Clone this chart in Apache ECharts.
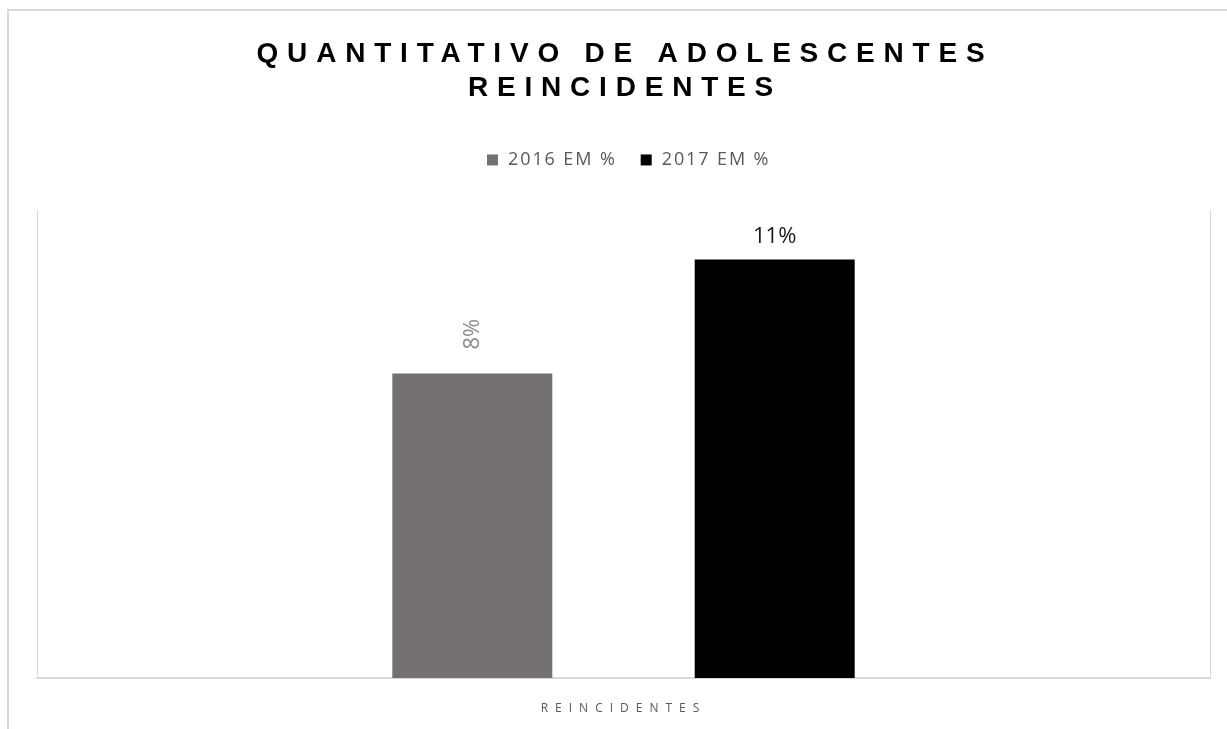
<!DOCTYPE html>
<html>
<head>
<meta charset="utf-8">
<title>Quantitativo de adolescentes reincidentes</title>
<script src="https://cdn.jsdelivr.net/npm/echarts@6/dist/echarts.min.js"></script>
<style>
  html, body { margin: 0; padding: 0; background: #ffffff; overflow: hidden; }
  #frame {
    position: absolute; left: 7px; top: 9px; width: 1300px; height: 800px;
    border-top: 2px solid #d9d9d9; border-left: 2px solid #d9d9d9;
  }
  #chart { position: absolute; left: 0; top: 0; width: 1227px; height: 729px; }
</style>
</head>
<body>
<div id="frame"></div>
<div id="chart"></div>
<script>
// Chart content
const titleText = 'QUANTITATIVO DE ADOLESCENTES\nREINCIDENTES';
const categories = ['REINCIDENTES'];
const seriesNames = ['2016 EM %', '2017 EM %'];
const values2016 = [8];
const values2017 = [11];

// ECharts has no letter-spacing option for canvas text, so tracking is
// applied through the 2D context whenever a matching font is set.
function trackingFor(font) {
  if (/\b28px/.test(font)) return '8.8px';   // title
  if (/\b18px/.test(font)) return '1.9px';   // legend
  if (/\b12px/.test(font)) return '7px';     // category label
  return '0px';
}
(function () {
  const proto = CanvasRenderingContext2D.prototype;
  const desc = Object.getOwnPropertyDescriptor(proto, 'font');
  if (!desc || !('letterSpacing' in proto)) return;
  Object.defineProperty(proto, 'font', {
    configurable: true,
    get() { return desc.get.call(this); },
    set(v) {
      desc.set.call(this, v);
      this.letterSpacing = trackingFor(String(v));
    }
  });
})();

const chart = echarts.init(document.getElementById('chart'), null, { renderer: 'canvas' });

const lineColor = '#d9d9d9';
const textGray = '#595959';

chart.setOption({
  backgroundColor: 'transparent',
  animation: false,
  title: {
    text: titleText,
    left: 620,
    top: 32,
    textAlign: 'center',
    textStyle: {
      fontFamily: 'Liberation Sans',
      fontWeight: 'bold',
      fontSize: 28,
      lineHeight: 34,
      color: '#000000'
    }
  },
  legend: {
    data: seriesNames,
    left: 482,
    top: 145,
    icon: 'rect',
    itemWidth: 11,
    itemHeight: 11,
    itemGap: 24,
    textStyle: {
      fontFamily: 'Open Sans',
      fontSize: 18,
      color: textGray,
      padding: [0, 0, 0, 5]
    }
  },
  grid: { left: 37, right: 17, top: 210, bottom: 51, containLabel: false },
  xAxis: {
    type: 'category',
    data: categories,
    axisLine: { show: true, lineStyle: { color: lineColor, width: 2 } },
    axisTick: { show: false },
    axisLabel: {
      fontFamily: 'Open Sans',
      fontSize: 12,
      color: textGray,
      margin: 21
    },
    splitLine: { show: false }
  },
  yAxis: [
    {
      type: 'value', min: 0, max: 12.3, position: 'left',
      axisLine: { show: true, lineStyle: { color: lineColor, width: 1 } },
      axisTick: { show: false }, axisLabel: { show: false }, splitLine: { show: false }
    },
    {
      type: 'value', min: 0, max: 12.3, position: 'right',
      axisLine: { show: true, lineStyle: { color: lineColor, width: 1 } },
      axisTick: { show: false }, axisLabel: { show: false }, splitLine: { show: false }
    }
  ],
  series: [
    {
      name: seriesNames[0],
      type: 'bar',
      data: values2016,
      barWidth: 160,
      barGap: '89%',
      itemStyle: { color: '#767171' },
      label: {
        show: true,
        position: 'top',
        distance: 24,
        rotate: 90,
        align: 'left',
        verticalAlign: 'middle',
        formatter: p => p.value + '%',
        fontFamily: 'Open Sans',
        fontSize: 22,
        color: '#8c8c8c'
      }
    },
    {
      name: seriesNames[1],
      type: 'bar',
      data: values2017,
      barWidth: 160,
      barGap: '89%',
      itemStyle: { color: '#000000' },
      label: {
        show: true,
        position: 'top',
        distance: 12,
        formatter: p => p.value + '%',
        fontFamily: 'Open Sans',
        fontSize: 22,
        color: '#1a1a1a'
      }
    }
  ]
});
</script>
</body>
</html>
